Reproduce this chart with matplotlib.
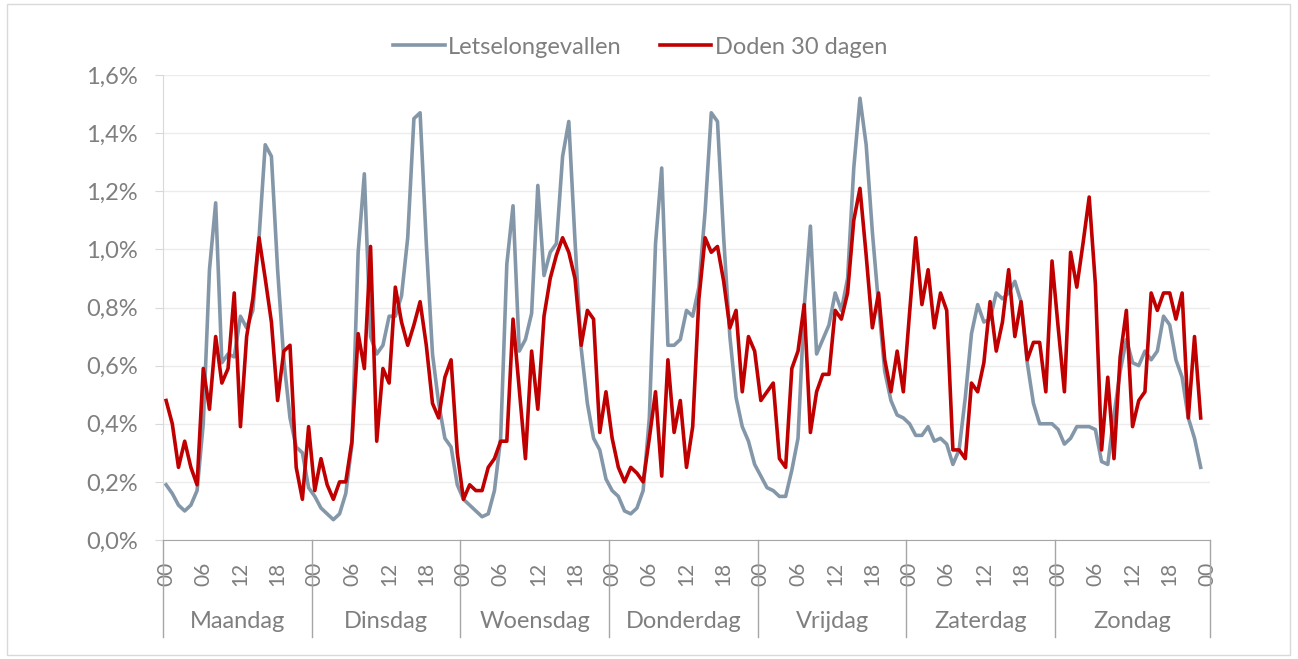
import numpy as np
import matplotlib
matplotlib.use('Agg')
from matplotlib import pyplot as plt
from matplotlib.patches import Rectangle
import matplotlib.transforms as mtransforms

plt.rcParams['font.family'] = ['Lato', 'DejaVu Sans']

# data: share per hour of the week (%), 24 hours per day
days = ['Maandag', 'Dinsdag', 'Woensdag', 'Donderdag', 'Vrijdag', 'Zaterdag', 'Zondag']
hour_labels = ['00', '06', '12', '18']

letsel_ma = [0.19, 0.16, 0.12, 0.10, 0.12, 0.17, 0.40, 0.93, 1.16, 0.61, 0.64, 0.63, 0.77, 0.73, 0.79, 1.04, 1.36, 1.32, 0.93, 0.62, 0.42, 0.32, 0.30, 0.18]
letsel_di = [0.15, 0.11, 0.09, 0.07, 0.09, 0.16, 0.33, 0.99, 1.26, 0.70, 0.64, 0.67, 0.77, 0.77, 0.84, 1.04, 1.45, 1.47, 1.02, 0.64, 0.47, 0.35, 0.32, 0.19]
letsel_wo = [0.14, 0.12, 0.10, 0.08, 0.09, 0.17, 0.35, 0.95, 1.15, 0.65, 0.69, 0.78, 1.22, 0.91, 0.99, 1.02, 1.32, 1.44, 1.03, 0.66, 0.47, 0.35, 0.31, 0.21]
letsel_do = [0.17, 0.15, 0.10, 0.09, 0.11, 0.17, 0.42, 1.02, 1.28, 0.67, 0.67, 0.69, 0.79, 0.77, 0.87, 1.13, 1.47, 1.44, 1.04, 0.70, 0.49, 0.39, 0.34, 0.26]
letsel_vr = [0.22, 0.18, 0.17, 0.15, 0.15, 0.24, 0.35, 0.80, 1.08, 0.64, 0.69, 0.74, 0.85, 0.79, 0.90, 1.28, 1.52, 1.36, 1.06, 0.81, 0.58, 0.48, 0.43, 0.42]
letsel_za = [0.40, 0.36, 0.36, 0.39, 0.34, 0.35, 0.33, 0.26, 0.31, 0.49, 0.71, 0.81, 0.75, 0.76, 0.85, 0.83, 0.85, 0.89, 0.82, 0.61, 0.47, 0.40, 0.40, 0.40]
letsel_zo = [0.38, 0.33, 0.35, 0.39, 0.39, 0.39, 0.38, 0.27, 0.26, 0.43, 0.58, 0.69, 0.61, 0.60, 0.65, 0.62, 0.65, 0.77, 0.74, 0.62, 0.56, 0.42, 0.35, 0.25]

doden_ma = [0.48, 0.40, 0.25, 0.34, 0.25, 0.19, 0.59, 0.45, 0.70, 0.54, 0.59, 0.85, 0.39, 0.70, 0.83, 1.04, 0.90, 0.75, 0.48, 0.65, 0.67, 0.25, 0.14, 0.39]
doden_di = [0.17, 0.28, 0.19, 0.14, 0.20, 0.20, 0.34, 0.71, 0.59, 1.01, 0.34, 0.59, 0.54, 0.87, 0.75, 0.67, 0.74, 0.82, 0.67, 0.47, 0.42, 0.56, 0.62, 0.30]
doden_wo = [0.14, 0.19, 0.17, 0.17, 0.25, 0.28, 0.34, 0.34, 0.76, 0.52, 0.28, 0.65, 0.45, 0.77, 0.90, 0.98, 1.04, 0.99, 0.90, 0.67, 0.79, 0.76, 0.37, 0.51]
doden_do = [0.35, 0.25, 0.20, 0.25, 0.23, 0.20, 0.35, 0.51, 0.22, 0.62, 0.37, 0.48, 0.25, 0.39, 0.83, 1.04, 0.99, 1.01, 0.89, 0.73, 0.79, 0.51, 0.70, 0.65]
doden_vr = [0.48, 0.51, 0.54, 0.28, 0.25, 0.59, 0.65, 0.81, 0.37, 0.51, 0.57, 0.57, 0.79, 0.76, 0.85, 1.10, 1.21, 0.98, 0.73, 0.85, 0.62, 0.51, 0.65, 0.51]
doden_za = [0.78, 1.04, 0.81, 0.93, 0.73, 0.85, 0.79, 0.31, 0.31, 0.28, 0.54, 0.51, 0.61, 0.82, 0.65, 0.75, 0.93, 0.70, 0.82, 0.62, 0.68, 0.68, 0.51, 0.96]
doden_zo = [0.73, 0.51, 0.99, 0.87, 1.02, 1.18, 0.88, 0.31, 0.56, 0.28, 0.63, 0.79, 0.39, 0.48, 0.51, 0.85, 0.79, 0.85, 0.85, 0.76, 0.85, 0.42, 0.70, 0.42]

letsel = letsel_ma + letsel_di + letsel_wo + letsel_do + letsel_vr + letsel_za + letsel_zo
doden = doden_ma + doden_di + doden_wo + doden_do + doden_vr + doden_za + doden_zo

grey_txt = '#7f7f7f'
c_letsel = '#8497a9'
c_doden = '#c00000'

fig = plt.figure(figsize=(12.98, 6.59), dpi=100)
ax = fig.add_axes([163/1298, 1 - 540/659, 1047/1298, 465/659])

x = np.arange(len(letsel))
ax.plot(x, letsel, color=c_letsel, lw=2.6, label='Letselongevallen')
ax.plot(x, doden, color=c_doden, lw=2.6, label='Doden 30 dagen')

# category axis has one extra slot at the end (final "00")
ax.set_xlim(-0.5, len(letsel) + 0.5)
ax.set_ylim(0, 1.6)

yt = np.arange(0, 1.61, 0.2)
ax.set_yticks(yt)
ax.set_yticklabels([('%.1f%%' % v).replace('.', ',') for v in yt], fontsize=17, color=grey_txt)
ax.grid(axis='y', color='#ececec', lw=1)
ax.set_axisbelow(True)

xt = list(range(0, len(letsel) + 1, 6))
ax.set_xticks(xt)
ax.set_xticklabels([hour_labels[(t // 6) % 4] for t in xt], rotation=90, fontsize=15, color=grey_txt)
ax.tick_params(axis='x', length=0, pad=16)
ax.tick_params(axis='y', length=6, color='#d9d9d9', direction='out', pad=12)

for s in ['top', 'right']:
  ax.spines[s].set_visible(False)
ax.spines['left'].set_color('#d9d9d9')
ax.spines['bottom'].set_color('#a6a6a6')

# second level of the category axis: day separators and names
trans = mtransforms.blended_transform_factory(ax.transData, ax.transAxes)
bounds = [-0.5 + 24 * i for i in range(7)] + [len(letsel) + 0.5]
for b in bounds:
  ax.plot([b, b], [0, -97/465], transform=trans, color='#a6a6a6', lw=1, clip_on=False)
for i, d in enumerate(days):
  ax.text((bounds[i] + bounds[i+1]) / 2, -81/465, d, transform=trans, ha='center', va='center',
          fontsize=17, color=grey_txt)

fig.legend(loc='center', bbox_to_anchor=(640/1298, 1 - 47/659), ncol=2, frameon=False,
           fontsize=17, labelcolor=grey_txt, handlelength=2.2, handletextpad=0.15, columnspacing=1.6)

# chart area border
fig.patches.append(Rectangle((7/1298, 4/659), 1283/1298, 651/659, transform=fig.transFigure,
                             fill=False, edgecolor='#d9d9d9', lw=1))

plt.savefig('out.png', dpi=100)
